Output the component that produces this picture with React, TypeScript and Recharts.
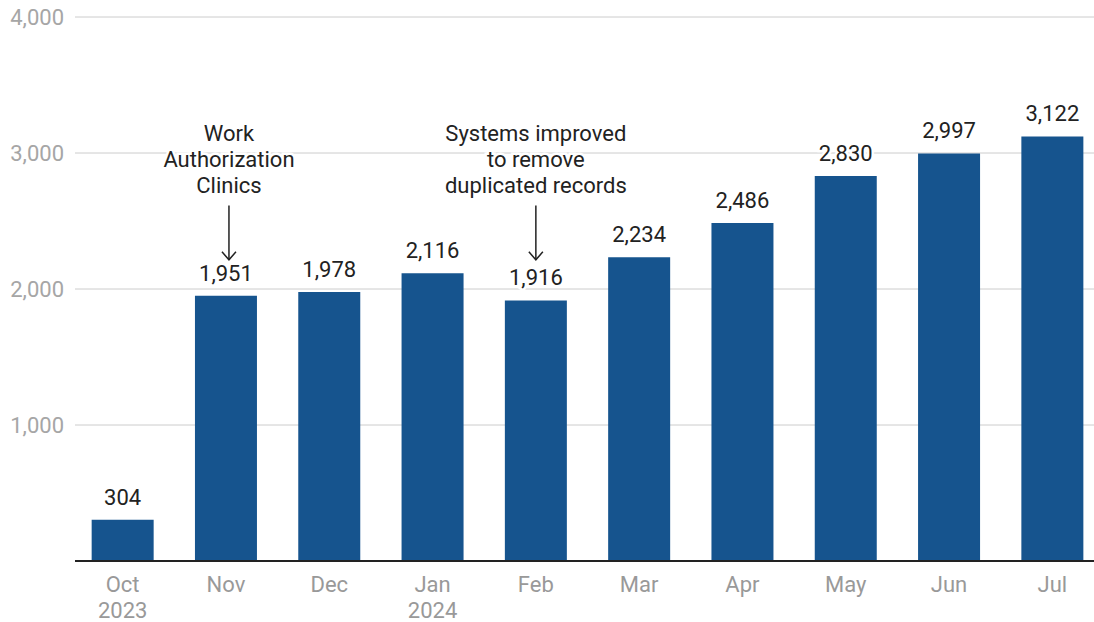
import React from "react";
import { BarChart, Bar, XAxis, YAxis, CartesianGrid, LabelList } from "recharts";

const months = ["Oct", "Nov", "Dec", "Jan", "Feb", "Mar", "Apr", "May", "Jun", "Jul"];
const years = ["2023", "", "", "2024", "", "", "", "", "", ""];
const values = [304, 1951, 1978, 2116, 1916, 2234, 2486, 2830, 2997, 3122];
const yTicks = [1000, 2000, 3000, 4000];
const annotations: { [k: string]: string[] } = {
  Nov: ["Work", "Authorization", "Clinics"],
  Feb: ["Systems improved", "to remove", "duplicated records"],
};
const annoShift: { [k: string]: number } = { Nov: 3, Feb: 0 };
// annotation text first line value level, arrow start / end values
const annoTextTop = 3147;
const arrowFrom = 2600;
const arrowTo = 2200;

const data = months.map((m, i) => ({ month: m, year: years[i], value: values[i] }));

const FONT = "Roboto, 'Noto Sans', sans-serif";

const XTick = (props: any) => {
  const { x, y, payload } = props;
  const d = data[payload.index] || data.find((r) => r.month === payload.value);
  return (
    <g>
      <text x={x} y={y + 23} textAnchor="middle" fill="#999" fontSize={22} fontFamily={FONT}>
        {payload.value}
      </text>
      {d && d.year ? (
        <text x={x} y={y + 49} textAnchor="middle" fill="#999" fontSize={22} fontFamily={FONT}>
          {d.year}
        </text>
      ) : null}
    </g>
  );
};

const ValueLabel = (props: any) => {
  const { x, y, width, height, value, index } = props;
  const cx = x + width / 2;
  const base = y + height;
  const ppu = height / value;
  const toY = (v: number) => base - v * ppu;
  const month = data[index].month;
  const anno = annotations[month];
  const ax = cx + (annoShift[month] || 0);
  return (
    <g>
      <text
        x={cx}
        y={y - 15}
        textAnchor="middle"
        fill="#222"
        fontSize={22}
        fontFamily={FONT}
        stroke="#fff"
        strokeWidth={5}
        paintOrder="stroke"
      >
        {value.toLocaleString("en-US")}
      </text>
      {anno ? (
        <g>
          {anno.map((t, i) => (
            <text
              key={i}
              x={ax}
              y={toY(annoTextTop) + 8 + i * 26}
              textAnchor="middle"
              fill="#222"
              fontSize={22}
              fontFamily={FONT}
              stroke="#fff"
              strokeWidth={5}
              paintOrder="stroke"
            >
              {t}
            </text>
          ))}
          <line x1={ax} x2={ax} y1={toY(arrowFrom) - 2} y2={toY(arrowTo) - 2} stroke="#222" strokeWidth={1.5} />
          <polyline
            points={`${ax - 7},${toY(arrowTo) - 10} ${ax},${toY(arrowTo) - 2} ${ax + 7},${toY(arrowTo) - 10}`}
            fill="none"
            stroke="#222"
            strokeWidth={1.5}
          />
        </g>
      ) : null}
    </g>
  );
};

export default function App() {
  return (
    <div style={{ position: "absolute", left: 0, top: 0, width: 1094, height: 622, background: "#fff" }}>
      <BarChart
        width={1094}
        height={622}
        data={data}
        margin={{ top: 17, right: 0, left: 0, bottom: 6 }}
        barCategoryGap="20%"
      >
        <CartesianGrid horizontal vertical={false} stroke="#ccc" strokeWidth={1} />
        <XAxis
          dataKey="month"
          height={55}
          tick={<XTick />}
          tickLine={false}
          axisLine={{ stroke: "#222", strokeWidth: 2 }}
          padding={{ left: -4, right: -10 }}
          interval={0}
        />
        <YAxis
          width={75}
          domain={[0, 4000]}
          ticks={yTicks}
          tickFormatter={(v: number) => v.toLocaleString("en-US")}
          tick={{ fill: "#a6a6a6", fontSize: 22, fontFamily: FONT }}
          tickLine={false}
          tickSize={0}
          tickMargin={11}
          axisLine={false}
        />
        <Bar dataKey="value" fill="#16548E" isAnimationActive={false}>
          <LabelList dataKey="value" content={<ValueLabel />} />
        </Bar>
      </BarChart>
    </div>
  );
}
